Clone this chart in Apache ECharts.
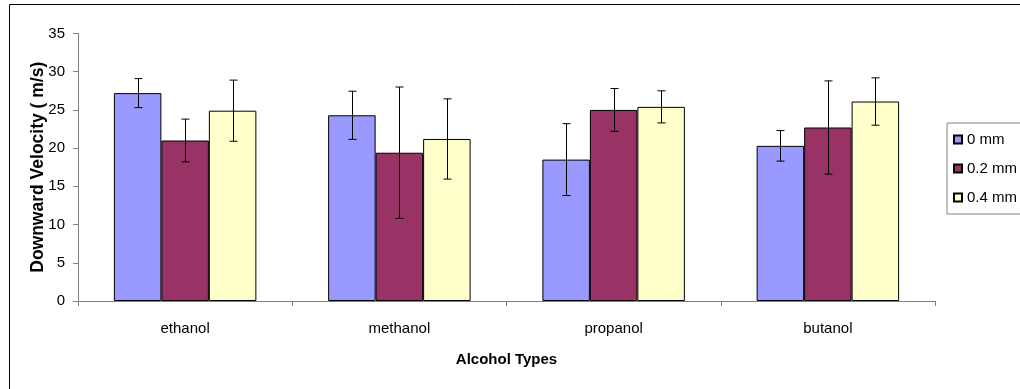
<!DOCTYPE html>
<html>
<head>
<meta charset="utf-8">
<script src="https://cdn.jsdelivr.net/npm/echarts@6/dist/echarts.min.js"></script>
<style>
  html, body { margin: 0; padding: 0; background: #fff; }
  #chart { width: 1020px; height: 389px; }
</style>
</head>
<body>
<div id="chart"></div>
<script>
// categories along the x axis
var categories = ['ethanol', 'methanol', 'propanol', 'butanol'];
var seriesNames = ['0 mm', '0.2 mm', '0.4 mm'];

// mean downward velocity (m/s) per hole size
var v0mm = [27.2, 24.3, 18.5, 20.3];
var v02mm = [21.0, 19.4, 25.0, 22.7];
var v04mm = [24.9, 21.2, 25.4, 26.1];

// +/- error for each bar
var err0mm = [1.9, 3.15, 4.7, 2.0];
var err02mm = [2.8, 8.6, 2.8, 6.1];
var err04mm = [4.0, 5.25, 2.1, 3.1];

var colors = ['#9999FF', '#993366', '#FFFFCC'];
var values = [v0mm, v02mm, v04mm];
var errors = [err0mm, err02mm, err04mm];
var catGap = 0.335;
var font = "'Liberation Sans', Arial, sans-serif";

var chart = echarts.init(document.getElementById('chart'));

var series = [];
values.forEach(function (vals, k) {
    series.push({
        name: seriesNames[k],
        type: 'bar',
        data: vals,
        barGap: 0,
        barCategoryGap: (catGap * 100) + '%',
        itemStyle: { color: colors[k], borderColor: '#000', borderWidth: 1 },
        emphasis: { disabled: true }
    });
});

// error bars drawn with a custom series, one per bar series
errors.forEach(function (errs, k) {
    series.push({
        type: 'custom',
        z: 5,
        silent: true,
        data: errs.map(function (e, i) {
            return [i, values[k][i] - e, values[k][i] + e];
        }),
        renderItem: function (params, api) {
            var lo = api.coord([api.value(0), api.value(1)]);
            var hi = api.coord([api.value(0), api.value(2)]);
            var band = api.size([1, 0])[0];
            var bw = band * (1 - catGap) / 3;
            var x = Math.round(lo[0] + (k - 1) * bw) + 0.5;
            var style = { stroke: '#000', lineWidth: 1 };
            return {
                type: 'group',
                children: [
                    { type: 'line', shape: { x1: x, y1: lo[1], x2: x, y2: hi[1] }, style: style },
                    { type: 'line', shape: { x1: x - 4, y1: lo[1], x2: x + 4, y2: lo[1] }, style: style },
                    { type: 'line', shape: { x1: x - 4, y1: hi[1], x2: x + 4, y2: hi[1] }, style: style }
                ]
            };
        }
    });
});

chart.setOption({
    animation: false,
    grid: { left: 78, right: 85, top: 33.5, bottom: 88 },
    graphic: [{
        type: 'rect',
        shape: { x: 9.5, y: 4.5, width: 1100, height: 500 },
        style: { fill: 'none', stroke: '#000', lineWidth: 1 },
        silent: true
    }],
    legend: {
        data: seriesNames,
        orient: 'vertical',
        left: 947,
        top: 123,
        padding: [9, 12, 9, 6],
        itemGap: 14,
        itemWidth: 8,
        itemHeight: 8,
        icon: 'rect',
        borderColor: '#808080',
        borderWidth: 1,
        textStyle: { fontFamily: font, fontSize: 15, color: '#000' }
    },
    xAxis: {
        type: 'category',
        data: categories,
        name: 'Alcohol Types',
        nameLocation: 'middle',
        nameGap: 51,
        nameMoveOverlap: false,
        nameTextStyle: { fontFamily: font, fontSize: 15, fontWeight: 'bold', color: '#000' },
        axisLine: { lineStyle: { color: '#808080', width: 1 } },
        axisTick: { show: true, length: 5, lineStyle: { color: '#808080' } },
        axisLabel: { fontFamily: font, fontSize: 15, color: '#000', margin: 20 }
    },
    yAxis: {
        type: 'value',
        min: 0,
        max: 35,
        interval: 5,
        name: 'Downward Velocity ( m/s)',
        nameLocation: 'middle',
        nameGap: 31,
        nameMoveOverlap: false,
        nameTextStyle: { fontFamily: font, fontSize: 17.5, fontWeight: 'bold', color: '#000' },
        splitLine: { show: false },
        axisLine: { show: true, lineStyle: { color: '#808080', width: 1 } },
        axisTick: { show: true, length: 5, lineStyle: { color: '#808080' } },
        axisLabel: { fontFamily: font, fontSize: 15, color: '#000', margin: 13 }
    },
    series: series
});

window.addEventListener('resize', function () {
    chart.resize();
});
</script>
</body>
</html>
